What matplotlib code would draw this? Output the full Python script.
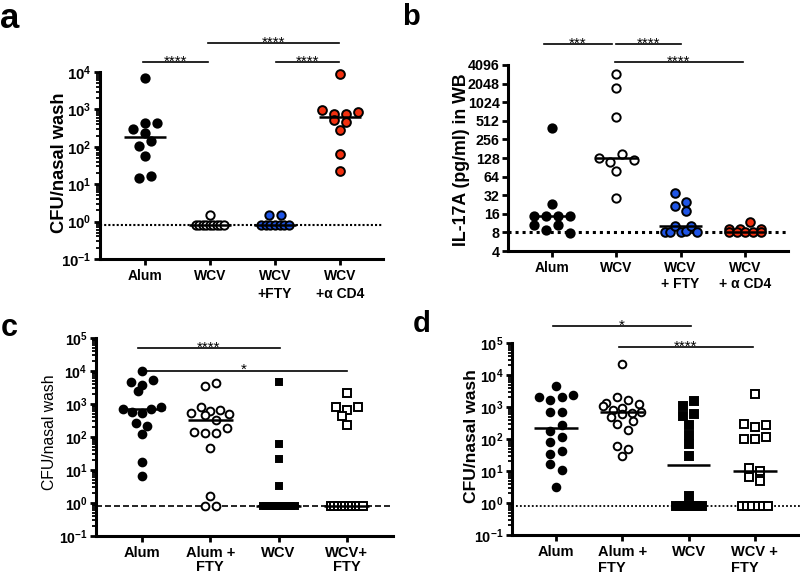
import numpy as np
import matplotlib
matplotlib.use('Agg')
import matplotlib.pyplot as plt
from matplotlib.ticker import FixedLocator, LogLocator, NullFormatter, NullLocator

plt.rcParams['font.family'] = ['Liberation Sans', 'DejaVu Sans']
plt.rcParams['mathtext.fontset'] = 'custom'
plt.rcParams['mathtext.rm'] = 'Liberation Sans'
plt.rcParams['mathtext.bf'] = 'Liberation Sans:bold'

# ---------------- data ----------------
# panel a: CFU / nasal wash
a_labels = ['Alum', 'WCV', 'WCV\n+FTY', 'WCV\n+\u03b1 CD4']
a_alum = [7000, 300, 420, 420, 235, 105, 140, 58, 15, 17]
a_wcv = [1.5, 0.8, 0.8, 0.8, 0.8, 0.8, 0.8, 0.8, 0.8, 0.8]
a_fty = [1.5, 1.5, 0.8, 0.8, 0.8, 0.8, 0.8, 0.8, 0.8]
a_cd4 = [8900, 960, 740, 740, 830, 520, 450, 290, 65, 23]
a_lod = 0.8

# panel b: IL-17A (pg/ml) in WB
b_labels = ['Alum', 'WCV', 'WCV\n+ FTY', 'WCV\n+ \u03b1 CD4']
b_alum = [394, 23, 15, 15, 15, 15, 10.4, 8.6, 10.4, 7.8]
b_wcv = [2900, 1760, 595, 126, 110, 148, 121, 79, 29]
b_fty = [34.8, 21.4, 17.7, 25, 8, 8, 10, 8, 8.5, 10, 8]
b_cd4 = [9, 9, 11.8, 9, 8, 8, 8, 8, 8]
b_lod = 8
b_ticks = [4, 8, 16, 32, 64, 128, 256, 512, 1024, 2048, 4096]

# panel c: CFU / nasal wash
c_labels = ['Alum', 'Alum +\nFTY', 'WCV', 'WCV+\nFTY']
c_alum = [9800, 4600, 3800, 5200, 2400, 700, 560, 520, 700, 830, 265, 220, 120, 17, 6.4]
c_alumfty = [3400, 4300, 550, 830, 600, 660, 500, 450, 330, 140, 130, 130, 190, 47, 1.6, 0.8, 0.8]
c_wcv = [4600, 62, 21, 3.3, 0.8, 0.8, 0.8, 0.8, 0.8, 0.8, 0.8, 0.8, 0.8, 0.8, 0.8]
c_wcvfty = [2100, 830, 660, 830, 420, 230, 0.8, 0.8, 0.8, 0.8, 0.8, 0.8, 0.8, 0.8, 0.8, 0.8]
c_lod = 0.8

# panel d: CFU / nasal wash
d_labels = ['Alum', 'Alum +\nFTY', 'WCV', 'WCV +\nFTY']
d_alum = [4400, 2050, 1700, 2050, 2400, 680, 680, 180, 270, 78, 112, 35, 42, 16.6, 11, 3.2]
d_alumfty = [22000, 1340, 2050, 1700, 1230, 1100, 800, 900, 650, 700, 480, 600, 370, 300, 195, 62, 49, 30]
d_wcv = [1050, 1500, 510, 600, 270, 130, 69, 29, 1.6, 0.8, 0.8, 0.8, 0.8, 0.8, 0.8, 0.8]
d_wcvfty = [2600, 295, 245, 270, 102, 102, 117, 12.3, 10.2, 6.3, 4.8, 0.8, 0.8, 0.8, 0.8, 0.8, 0.8]
d_lod = 0.8

BLUE = '#1f55e6'
RED = '#f2300f'

W, H = 800, 574
fig = plt.figure(figsize=(8, 5.74), dpi=100)


def add_ax(l, r, top, bottom):
    return fig.add_axes([l / W, 1 - bottom / H, (r - l) / W, (bottom - top) / H])


def style(ax):
    for s in ['top', 'right']:
        ax.spines[s].set_visible(False)
    for s in ['left', 'bottom']:
        ax.spines[s].set_linewidth(2.2)
    ax.tick_params(axis='both', which='major', direction='out', width=2, length=4.5, pad=1.5)
    ax.tick_params(axis='y', which='minor', direction='out', width=1.3, length=2.6)
    ax.tick_params(axis='x', which='minor', bottom=False)
    ax.tick_params(axis='x', which='major', pad=3)


def swarm(ax, xc, vals, d, maxhalf, sxf=1.3, hf=0.9):
    """Row-based scatter layout in pixel space (GraphPad-like)."""
    vals = np.asarray(vals, float)
    pts = ax.transData.transform(np.column_stack([np.full(len(vals), xc), vals]))
    xpx = pts[0, 0]
    ys = pts[:, 1]
    order = np.argsort(-ys, kind='stable')
    rows, cur, start = [], [], None
    for i in order:
        if cur and start - ys[i] > hf * d:
            rows.append(sorted(cur))
            cur = []
        if not cur:
            start = ys[i]
        cur.append(i)
    if cur:
        rows.append(sorted(cur))
    offs = np.zeros(len(vals))
    placed = []
    for row in rows:
        n = len(row)
        if n == 1:
            i = row[0]
            chosen = None
            for k in range(0, 80):
                for c in ([0.0] if k == 0 else [-k * 0.5, k * 0.5]):
                    if all((c - px) ** 2 + (ys[i] - py) ** 2 >= (0.9 * d) ** 2 for px, py in placed):
                        chosen = c
                        break
                if chosen is not None:
                    break
            offs[i] = chosen if chosen is not None else 0.0
            placed.append((offs[i], ys[i]))
        else:
            sx = min(sxf * d, 2 * maxhalf / (n - 1))
            for k, i in enumerate(row):
                offs[i] = (k - (n - 1) / 2) * sx
                placed.append((offs[i], ys[i]))
    inv = ax.transData.inverted()
    return inv.transform(np.column_stack([xpx + offs, ys]))[:, 0]


def group(ax, i, vals, marker, fc, ec, ms=6.0, mew=1.4, d=9.0, maxhalf=19, hf=0.9, mhalf=0.33):
    xs = swarm(ax, i, vals, d, maxhalf, hf=hf)
    ax.plot(xs, vals, linestyle='none', marker=marker, ms=ms, mfc=fc, mec=ec, mew=mew,
            zorder=3, clip_on=False)
    med = np.median(vals)
    ax.plot([i - mhalf, i + mhalf], [med, med], color='black', lw=1.8, zorder=4,
            solid_capstyle='butt')


def sigbar(ax, x1, x2, yfrac, stars):
    tr = ax.get_xaxis_transform()
    ax.plot([x1, x2], [yfrac, yfrac], color='black', lw=1.2, transform=tr, clip_on=False)
    ax.annotate(stars, xy=((x1 + x2) / 2, yfrac), xycoords=tr, xytext=(0, -2.6),
                textcoords='offset points', ha='center', va='baseline', fontsize=11)


def log10_labels(ax, exps, fs):
    ticks = [10.0 ** e for e in exps]
    ax.yaxis.set_major_locator(FixedLocator(ticks))
    ax.set_yticklabels([r'$\mathbf{10^{%d}}$' % e for e in exps], fontsize=fs)
    ax.yaxis.set_minor_locator(LogLocator(base=10, subs=np.arange(2, 10)))
    ax.yaxis.set_minor_formatter(NullFormatter())


# ================= panel a =================
ax = add_ax(100, 383, 72, 259)
style(ax)
ax.set_yscale('log')
ax.set_ylim(0.1, 1e4)
ax.set_xlim(-0.692, 3.662)
log10_labels(ax, [-1, 0, 1, 2, 3, 4], 10.8)
ax.set_xticks(range(4))
ax.set_xticklabels(a_labels, fontsize=10, fontweight='bold', linespacing=1.35)
ax.axhline(a_lod, color='black', lw=1.5, ls=(0, (1, 1)), zorder=1)
group(ax, 0, a_alum, 'o', 'black', 'black')
group(ax, 1, a_wcv, 'o', 'white', 'black', maxhalf=14)
group(ax, 2, a_fty, 'o', BLUE, 'black', maxhalf=14)
group(ax, 3, a_cd4, 'o', RED, 'black', ms=6.3)
sigbar(ax, -0.03, 0.97, 1.053, '****')
sigbar(ax, 0.97, 2.98, 1.155, '****')
sigbar(ax, 2.02, 2.98, 1.053, '****')
fig.text(59 / W, 1 - 163 / H, 'CFU/nasal wash', rotation=90, ha='center', va='center',
         fontsize=13.2, fontweight='bold')
fig.text(0 / W, 1 - 2 / H, 'a', ha='left', va='top', fontsize=25, fontweight='bold')

# ================= panel b =================
ax = add_ax(508, 788, 65, 251)
style(ax)
ax.set_yscale('log', base=2)
ax.set_ylim(4, 4096)
ax.set_xlim(-0.684, 3.670)
ax.yaxis.set_major_locator(FixedLocator(b_ticks))
ax.set_yticklabels([str(t) for t in b_ticks], fontsize=10.3, fontweight='bold')
ax.yaxis.set_minor_locator(NullLocator())
ax.set_xticks(range(4))
ax.set_xticklabels(b_labels, fontsize=10, fontweight='bold', linespacing=1.1)
ax.axhline(b_lod, color='black', lw=2.2, ls=(0, (1, 1.3)), zorder=1)
group(ax, 0, b_alum, 'o', 'black', 'black')
group(ax, 1, b_wcv, 'o', 'white', 'black')
group(ax, 2, b_fty, 'o', BLUE, 'black', ms=6.2, maxhalf=16, hf=1.1)
group(ax, 3, b_cd4, 'o', RED, 'black', ms=6.2, maxhalf=16)
sigbar(ax, -0.12, 0.93, 1.113, '***')
sigbar(ax, 1.0, 2.0, 1.113, '****')
sigbar(ax, 0.98, 2.97, 1.016, '****')
fig.text(461 / W, 1 - 160 / H, 'IL-17A (pg/ml) in WB', rotation=90, ha='center', va='center',
         fontsize=12.8, fontweight='bold')
fig.text(402 / W, 1 - 3 / H, 'b', ha='left', va='top', fontsize=21, fontweight='bold')

# ================= panel c =================
ax = add_ax(96, 393, 338, 536)
style(ax)
ax.set_yscale('log')
ax.set_ylim(0.1, 1e5)
ax.set_xlim(-0.673, 3.675)
log10_labels(ax, [-1, 0, 1, 2, 3, 4, 5], 10.2)
ax.set_xticks(range(4))
ax.set_xticklabels(c_labels, fontsize=10.6, fontweight='bold', linespacing=1.0)
ax.axhline(c_lod, color='black', lw=1.2, ls=(0, (3.6, 1.8)), zorder=1)
group(ax, 0, c_alum, 'o', 'black', 'black', ms=5.6, d=8.5)
group(ax, 1, c_alumfty, 'o', 'white', 'black', ms=5.6, d=8.5)
group(ax, 2, c_wcv, 's', 'black', 'black', ms=5.0, maxhalf=16)
group(ax, 3, c_wcvfty, 's', 'white', 'black', ms=5.2, maxhalf=16, d=8.5)
sigbar(ax, -0.06, 2.02, 0.951, '****')
sigbar(ax, -0.01, 3.0, 0.835, '*')
fig.text(49 / W, 1 - 432 / H, 'CFU/nasal wash', rotation=90, ha='center', va='center',
         fontsize=11.3)
fig.text(1 / W, 1 - 313 / H, 'c', ha='left', va='top', fontsize=22, fontweight='bold')

# ================= panel d =================
ax = add_ax(512, 800, 343, 535)
style(ax)
ax.set_yscale('log')
ax.set_ylim(0.1, 1e5)
ax.set_xlim(-0.664, 3.680)
log10_labels(ax, [-1, 0, 1, 2, 3, 4, 5], 10.4)
ax.set_xticks(range(4))
ax.set_xticklabels(d_labels, fontsize=10.5, fontweight='bold', linespacing=1.1,
                   multialignment='left')
ax.axhline(d_lod, color='black', lw=1.3, ls=(0, (1, 1.2)), zorder=1)
group(ax, 0, d_alum, 'o', 'black', 'black', ms=5.5, d=8.5)
group(ax, 1, d_alumfty, 'o', 'white', 'black', ms=5.5, d=8.5)
group(ax, 2, d_wcv, 's', 'black', 'black', ms=5.3, d=8.5, maxhalf=13)
group(ax, 3, d_wcvfty, 's', 'white', 'black', ms=5.3, d=8.5, maxhalf=13)
sigbar(ax, -0.05, 2.03, 1.089, '*')
sigbar(ax, 0.95, 2.97, 0.978, '****')
fig.text(471 / W, 1 - 436 / H, 'CFU/nasal wash', rotation=90, ha='center', va='center',
         fontsize=12.6, fontweight='bold')
fig.text(413 / W, 1 - 310 / H, 'd', ha='left', va='top', fontsize=21, fontweight='bold')

fig.savefig('out.png', dpi=100)
